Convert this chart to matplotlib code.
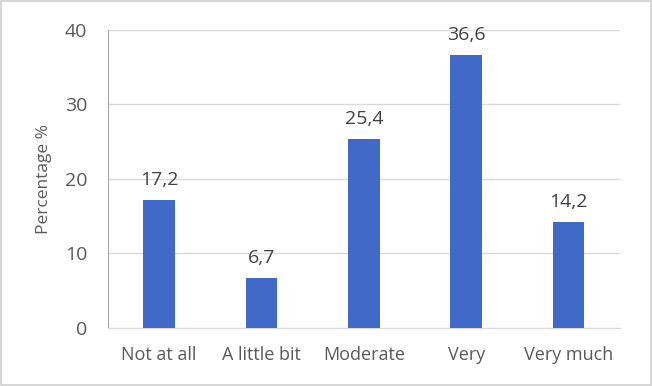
import matplotlib.pyplot as plt
from matplotlib.patches import Rectangle

categories = ['Not at all', 'A little bit', 'Moderate', 'Very', 'Very much']
values = [17.2, 6.7, 25.4, 36.6, 14.2]
value_labels = ['17,2', '6,7', '25,4', '36,6', '14,2']

plt.rcParams['font.family'] = ['Open Sans', 'DejaVu Sans']
text_color = '#595959'

fig = plt.figure(figsize=(6.52, 3.86), dpi=100)
ax = fig.add_axes([0.1656, 0.1503, 0.785, 0.772])

x = range(len(categories))
ax.bar(x, values, width=0.31, color='#4169C8', zorder=3)
for xi, v, lab in zip(x, values, value_labels):
    ax.annotate(lab, (xi, v), xytext=(0, 8), textcoords='offset points',
                ha='center', va='bottom', fontsize=14, color='#404040')

ax.set_xlim(-0.5, len(categories) - 0.5)
ax.set_ylim(0, 40)
ax.set_yticks([0, 10, 20, 30, 40])
ax.set_xticks(list(x))
ax.set_xticklabels(categories)
ax.tick_params(axis='x', length=0, labelsize=13, colors=text_color, pad=13)
ax.tick_params(axis='y', length=0, labelsize=14, colors=text_color, pad=15)
ax.grid(axis='y', color='#d9d9d9', linewidth=1, zorder=0)
ax.set_ylabel('Percentage %', fontsize=12.5, color=text_color, labelpad=9)

for s in ['top', 'right']:
    ax.spines[s].set_visible(False)
ax.spines['left'].set_color('#a6a6a6')
ax.spines['bottom'].set_color('#d9d9d9')

fig.patches.append(Rectangle((0.002, 0.003), 0.996, 0.994, transform=fig.transFigure,
                             fill=False, edgecolor='#d0d0d0', linewidth=1.2))

fig.savefig('out.png', dpi=100)
